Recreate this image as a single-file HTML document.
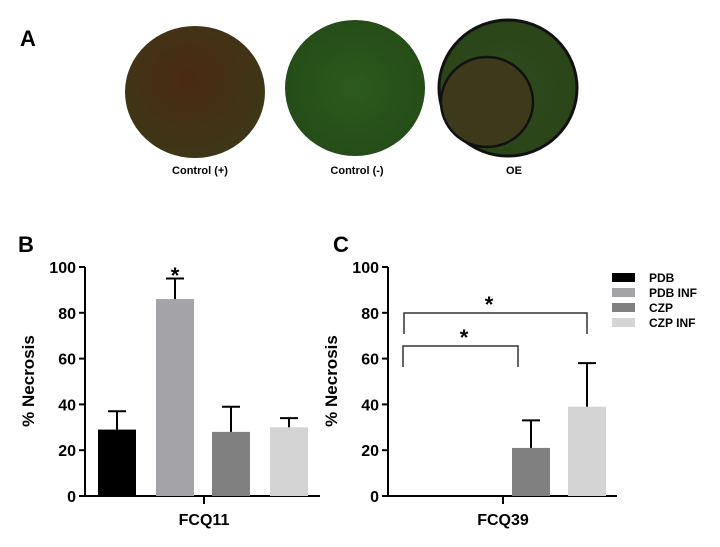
<!DOCTYPE html>
<html><head><meta charset="utf-8"><style>
body{margin:0;background:#fff;}
svg text{font-family:"Liberation Sans",sans-serif;}
</style></head><body>
<svg id="fig" width="720" height="542" xmlns="http://www.w3.org/2000/svg">
<defs>
<radialGradient id="g1" cx="0.45" cy="0.4" r="0.6"><stop offset="0" stop-color="#4a2a12"/><stop offset="1" stop-color="#3e3618"/></radialGradient>
<radialGradient id="g2" cx="0.5" cy="0.5" r="0.6"><stop offset="0" stop-color="#2c5a1c"/><stop offset="1" stop-color="#244a18"/></radialGradient>
<radialGradient id="g3" cx="0.5" cy="0.5" r="0.6"><stop offset="0" stop-color="#2f4a1c"/><stop offset="1" stop-color="#2a4418"/></radialGradient>
</defs>
<text x="20" y="46" font-size="22" font-weight="bold">A</text>
<ellipse cx="195" cy="92" rx="70" ry="66" fill="url(#g1)"/>
<ellipse cx="355" cy="88" rx="70" ry="68" fill="url(#g2)"/>
<ellipse cx="508" cy="88" rx="69" ry="68" fill="url(#g3)" stroke="#111" stroke-width="3"/>
<ellipse cx="487" cy="102" rx="46" ry="45" fill="#3d3a1c" stroke="#111" stroke-width="2.5"/>
<text x="200" y="174" font-size="11" font-weight="bold" text-anchor="middle">Control (+)</text>
<text x="357" y="174" font-size="11" font-weight="bold" text-anchor="middle">Control (-)</text>
<text x="514" y="174" font-size="11" font-weight="bold" text-anchor="middle">OE</text>
<text x="18" y="252" font-size="22" font-weight="bold">B</text>
<text x="333" y="252" font-size="22" font-weight="bold">C</text>
<g id="chartB"></g>
<g id="chartC"></g>
<g id="legend"></g>
</svg>
<script>
const categories = ["PDB","PDB INF","CZP","CZP INF"];
const colors = ["#000000","#a3a3a8","#808080","#d4d4d4"];
const valuesB = [29, 86, 28, 30];
const errorsB = [8, 9, 11, 4];
const valuesC = [0, 0, 21, 39];
const errorsC = [0, 0, 12, 19];
const ticks = [0,20,40,60,80,100];
const NS="http://www.w3.org/2000/svg";
function mk(tag,attrs,parent){const e=document.createElementNS(NS,tag);for(const k in attrs)e.setAttribute(k,attrs[k]);parent.appendChild(e);return e;}
function yScale(v){return 496 - v*2.29;}
function drawChart(g, axisX, axisEnd, barStarts, barW, vals, errs, tickX, label, name){
  let ax=mk('line',{x1:axisX,y1:267,x2:axisX,y2:497,stroke:'#000','stroke-width':2},g);
  
  
  let bx=mk('line',{x1:axisX-1,y1:496,x2:axisEnd,y2:496,stroke:'#000','stroke-width':2},g);
  
  
  mk('line',{x1:tickX,y1:496,x2:tickX,y2:504,stroke:'#000','stroke-width':2},g);
  ticks.forEach(t=>{
    const y=yScale(t);
    mk('line',{x1:axisX-6,y1:y,x2:axisX,y2:y,stroke:'#000','stroke-width':2},g);
    const tx=mk('text',{x:axisX-9,y:y+6,'font-size':16,'font-weight':'bold','text-anchor':'end'},g);
    tx.textContent=t;
    
    
  });
  const yt=mk('text',{x:0,y:0,'font-size':17,'font-weight':'bold','text-anchor':'middle',transform:`translate(${axisX-51},381) rotate(-90)`},g);
  yt.textContent='% Necrosis';
  
  
  const xl=mk('text',{x:tickX,y:525,'font-size':16,'font-weight':'bold','text-anchor':'middle'},g);
  xl.textContent=label;
  
  
  vals.forEach((v,i)=>{
    if(v<=0) return;
    const x=barStarts[i], top=yScale(v);
    const r=mk('rect',{x:x,y:top,width:barW,height:496-top,fill:colors[i]},g);
    
    
    const cx=x+barW/2, et=yScale(v+errs[i]);
    mk('line',{x1:cx,y1:top,x2:cx,y2:et,stroke:'#000','stroke-width':2},g);
    mk('line',{x1:cx-9,y1:et,x2:cx+9,y2:et,stroke:'#000','stroke-width':2},g);
  });
}
const gB=document.getElementById('chartB'), gC=document.getElementById('chartC');
drawChart(gB,85,320,[98,156,212,270],38,valuesB,errorsB,204,'FCQ11','fcq11');
drawChart(gC,388,617,[445,500,512,568],38,valuesC,errorsC,503,'FCQ39','fcq39');
const s1=mk('text',{x:175,y:283,'font-size':22,'font-weight':'bold','text-anchor':'middle'},gB);
s1.textContent='*';


mk('path',{d:'M404 334 V313 H587 V334',fill:'none',stroke:'#333','stroke-width':1.5},gC);
mk('path',{d:'M403 367 V346 H518 V367',fill:'none',stroke:'#333','stroke-width':1.5},gC);
const s2=mk('text',{x:489,y:312,'font-size':22,'font-weight':'bold','text-anchor':'middle'},gC);
s2.textContent='*';


const s3=mk('text',{x:464,y:345,'font-size':22,'font-weight':'bold','text-anchor':'middle'},gC);
s3.textContent='*';


const lg=document.getElementById('legend');
categories.forEach((c,i)=>{
  const y=273+i*15;
  const sw=mk('rect',{x:612,y:y,width:23,height:9,fill:colors[i]},lg);
  
  
  const t=mk('text',{x:649,y:y+9,'font-size':12,'font-weight':'bold'},lg);
  t.textContent=c;
  
  
});
</script>
</body></html>
